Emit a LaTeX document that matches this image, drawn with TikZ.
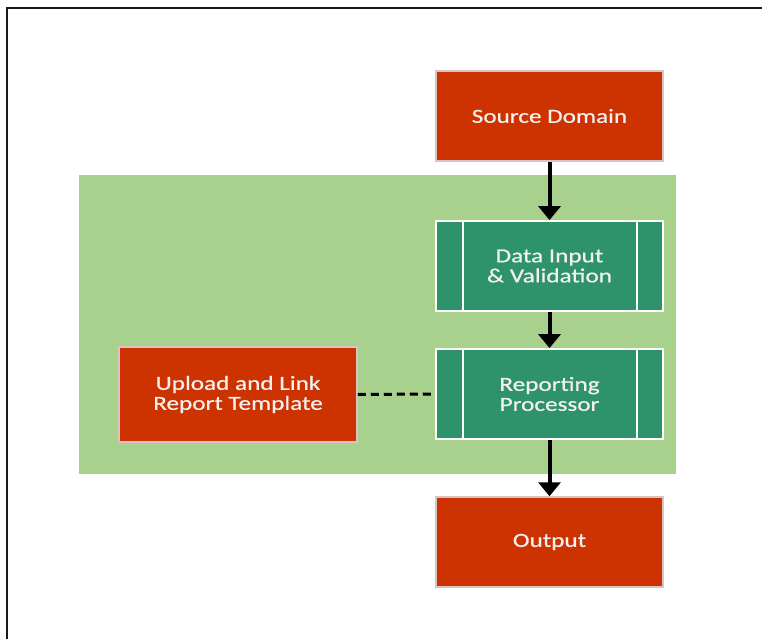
\documentclass[tikz,border=0pt]{standalone}
\usepackage{fontspec}
\newfontfamily\boxfont[FakeStretch=1.26,FakeBold=0.6]{Carlito}
\definecolor{redbox}{HTML}{CC3300}
\definecolor{greenbg}{HTML}{A9D18E}
\definecolor{tealbox}{HTML}{2E936A}
\definecolor{redborder}{HTML}{D9C3C3}
\definecolor{txt}{HTML}{F4F0F0}
\tikzset{
  redstep/.style={fill=redbox, draw=redborder, line width=1.5pt, minimum width=227pt, minimum height=90pt, inner sep=0pt,
    font=\boxfont\fontsize{20}{20}\selectfont, text=txt, align=center},
  procstep/.style={fill=tealbox, draw=white, line width=1.8pt, minimum width=227pt, minimum height=90pt, inner sep=0pt,
    font=\boxfont\fontsize{20}{20}\selectfont, text=txt, align=center},
  flowarrow/.style={line width=4pt, -{Triangle[width=22pt,length=14pt]}, shorten >=0pt},
}
\usetikzlibrary{arrows.meta}
\begin{document}
\begin{tikzpicture}[x=1pt,y=-1pt]
\useasboundingbox (0,0) rectangle (762,639);
\fill[white] (0,0) rectangle (762,639);
% frame
\draw[line width=2.8pt, black!90] (7,640) -- (7,8) -- (763,8);
% green area
\fill[greenbg] (79,175) rectangle (676,474);
% nodes
\node[redstep] (src) at (549.5,116) {\raisebox{-1pt}{Source Domain}};
\node[procstep] (dat) at (549.5,266) {Data Input\\\& Validation};
\node[procstep] (rep) at (549.5,394) {Reporting\\Processor};
\node[redstep] (upl) at (238,394.5) [minimum width=238pt, minimum height=95pt] {Upload and Link\\Report Template};
\node[redstep] (out) at (549.5,542) {\raisebox{-2pt}{Output}};
% inner lines of process boxes
\foreach \n in {dat,rep}{
  \draw[white, line width=1.8pt] ([xshift=28pt]\n.north west) -- ([xshift=28pt]\n.south west);
  \draw[white, line width=1.8pt] ([xshift=-27pt]\n.north east) -- ([xshift=-27pt]\n.south east);
}
% connectors
\draw[flowarrow] (src.south) -- (dat.north);
\draw[flowarrow] (dat.south) -- (rep.north);
\draw[flowarrow] (rep.south) -- (out.north);
\draw[line width=3pt, dash pattern=on 8pt off 5pt] (upl.east) -- (rep.west);
\end{tikzpicture}
\end{document}
